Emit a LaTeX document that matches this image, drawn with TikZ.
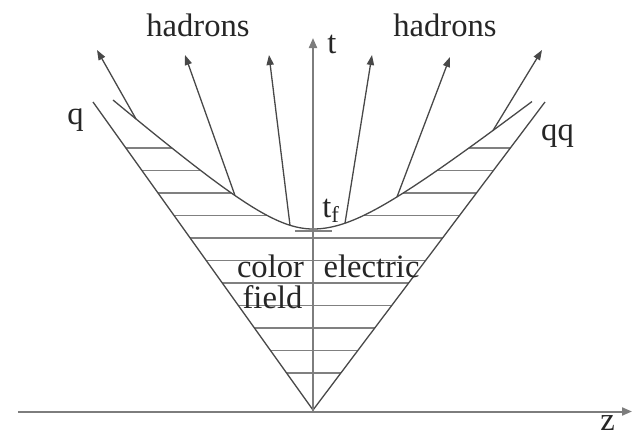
\documentclass[tikz,border=0pt]{standalone}
\usepackage{fontspec}
\setmainfont{Liberation Serif}
\usetikzlibrary{arrows.meta}
\definecolor{Ink}{RGB}{72,72,72}
\definecolor{Axis}{RGB}{125,125,125}
\definecolor{Hatch}{RGB}{128,128,128}

\begin{document}
\begin{tikzpicture}[x=.5pt,y=.5pt,
 declare function={hl(\z)=130+10*sqrt(26.01+0.745*(\z/10)^2);
  hr(\z)=130+10*sqrt(26.01+0.61*(\z/10)^2);},
 l/.style={draw=Ink,line width=.65pt},
 a/.style={l,-{Triangle[length=5pt,width=3.6pt]}},
 ax/.style={draw=Axis,line width=1pt,-{Triangle[length=5pt,width=4pt]}},
 h/.style={draw=Hatch,line width=.8pt},
 lb/.style={font=\fontsize{16.3}{19}\selectfont,text=black!85,inner sep=0pt}]
\useasboundingbox (-313,-26) rectangle (319,410);
\coordinate (o) at (0,0);
\coordinate (zl) at (-295,-1.5);
\coordinate (zr) at (319,-1.5);
\coordinate (tt) at (0,372);
\coordinate (vl) at (-220,308);
\coordinate (vr) at (232,308);
\foreach \n in {0,...,10}{
 \pgfmathsetmacro\T{37+22.5*\n}
 \ifdim\T pt<181pt
  \draw[h] (-\T/1.4,\T) -- (\T/1.328,\T);
 \else
  \pgfmathsetmacro\zl{10*sqrt(((\T/10-13)^2-26.01)/0.745)}
  \pgfmathsetmacro\zr{10*sqrt(((\T/10-13)^2-26.01)/0.61)}
  \draw[h] (-\T/1.4,\T) -- (-\zl,\T);
  \draw[h] (\zr,\T) -- (\T/1.328,\T);
 \fi}
\draw[h] (-18,179) -- (19,179);
\draw[l] (vl) -- (o) -- (vr);
\draw[l] plot[domain=-200:0,samples=60] (\x,{hl(\x)});
\draw[l] plot[domain=0:219,samples=60] (\x,{hr(\x)});
\foreach \i/\z/\ex/\et in {1/-177/-216/360,2/-78/-128/355,3/-23/-44/355}{
 \coordinate (b\i) at (\z,{hl(\z)});
 \coordinate (e\i) at (\ex,\et);
 \draw[a] (b\i) -- (e\i);}
\foreach \i/\z/\ex/\et in {5/32/59/355,6/84/137/353,7/180/229/360}{
 \coordinate (b\i) at (\z,{hr(\z)});
 \coordinate (e\i) at (\ex,\et);
 \draw[a] (b\i) -- (e\i);}
\draw[ax] (zl) -- (zr);
\draw[ax] (0,-1.5) -- (tt);
\node[lb,anchor=base] (hadl) at (-115,374) {hadrons};
\node[lb,anchor=base] (hadr) at (132,374) {hadrons};
\node[lb,anchor=base] (t) at (19,357) {t};
\node[lb,anchor=base] (q) at (-237.5,286) {q};
\node[lb,anchor=base] (qq) at (244.5,270) {qq};
\node[lb,anchor=base west] (tf) at (9,193) {t\textsubscript{f}};
\node[lb,anchor=base] (col) at (-42.5,133) {color};
\node[lb,anchor=base] (ele) at (58.5,133) {electric};
\node[lb,anchor=base] (fie) at (-40.5,102) {field};
\node[lb,anchor=base] (z) at (294.5,-20) {z};
\end{tikzpicture}
\end{document}
